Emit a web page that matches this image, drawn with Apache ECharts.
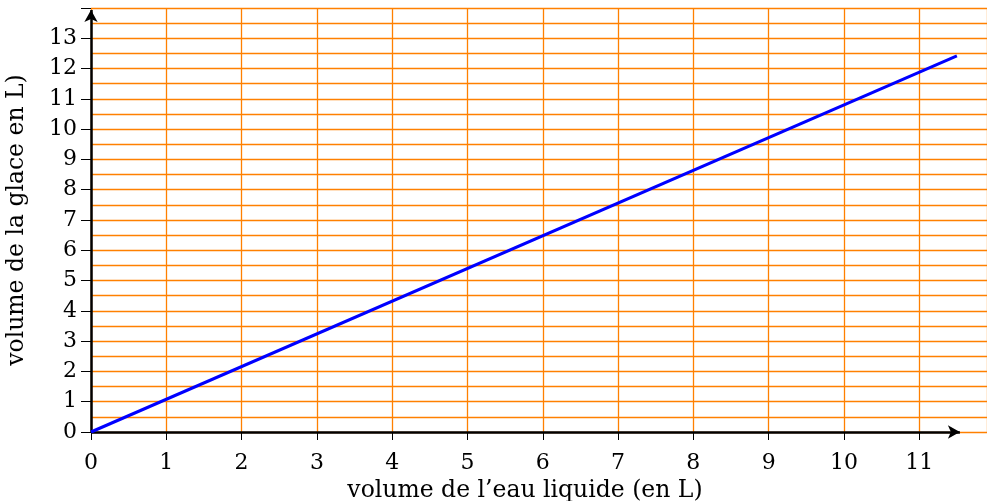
<!DOCTYPE html>
<html>
<head>
<meta charset="utf-8">
<script src="https://cdn.jsdelivr.net/npm/echarts@6/dist/echarts.min.js"></script>
<style>
html,body{margin:0;padding:0;background:#fff;}
#chart{width:987px;height:501px;}
</style>
</head>
<body>
<div id="chart"></div>
<script>
// volume de l'eau liquide -> volume de la glace
var waterVolume = [0, 11.5];
var iceVolume = [0, 12.42];
var xTicks = [0, 1, 2, 3, 4, 5, 6, 7, 8, 9, 10, 11];
var yTicks = [0, 1, 2, 3, 4, 5, 6, 7, 8, 9, 10, 11, 12, 13];
var axisEnd = [11.54, 13.93];

var orange = '#ff8000';
var font = 'DejaVu Serif';

var chart = echarts.init(document.getElementById('chart'));

var points = [];
for (var i = 0; i < waterVolume.length; i++) {
	points.push([waterVolume[i], iceVolume[i]]);
}

var option = {
	animation: false,
	grid: {left: 91, right: 0, top: 8, bottom: 69, containLabel: false, outerBoundsMode: 'none'},
	xAxis: {
		type: 'value',
		min: 0,
		max: 11.9,
		interval: 1,
		name: 'volume de l\u2019eau liquide (en L)',
		nameLocation: 'middle',
		nameGap: 44,
		nameTextStyle: {fontFamily: font, fontSize: 23.5, color: '#000', padding: [0, 28, 0, 0]},
		axisLine: {show: false},
		axisTick: {show: true, length: 8, lineStyle: {color: '#000', width: 1}},
		axisLabel: {
			fontFamily: font, fontSize: 22, color: '#000', margin: 20,
			showMaxLabel: false,
			formatter: function(v){ return xTicks.indexOf(v) >= 0 ? String(v) : ''; }
		},
		splitLine: {show: true, lineStyle: {color: orange, width: 1.3}}
	},
	yAxis: {
		type: 'value',
		min: 0,
		max: 14,
		interval: 1,
		name: 'volume de la glace en L)',
		nameLocation: 'middle',
		nameGap: 62,
		nameRotate: 90,
		nameTextStyle: {fontFamily: font, fontSize: 23.5, color: '#000'},
		axisLine: {show: false},
		axisTick: {show: true, length: 10, lineStyle: {color: '#000', width: 1}},
		minorTick: {show: false, splitNumber: 2},
		axisLabel: {
			fontFamily: font, fontSize: 22, color: '#000', margin: 14,
			formatter: function(v){ return yTicks.indexOf(v) >= 0 ? String(v) : ''; }
		},
		splitLine: {show: true, lineStyle: {color: orange, width: 1.3}},
		minorSplitLine: {show: true, lineStyle: {color: orange, width: 1.3}}
	},
	series: [{
		type: 'line',
		data: points,
		showSymbol: false,
		lineStyle: {color: '#0000ff', width: 3},
		z: 5,
		markLine: {
			silent: true,
			symbol: ['none', 'arrow'],
			symbolSize: [10, 12],
			label: {show: false},
			lineStyle: {color: '#000', width: 2.5, type: 'solid'},
			data: [
				[{coord: [0, 0]}, {coord: [axisEnd[0], 0]}],
				[{coord: [0, 0]}, {coord: [0, axisEnd[1]]}]
			]
		}
	}]
};

chart.setOption(option);
</script>
</body>
</html>
